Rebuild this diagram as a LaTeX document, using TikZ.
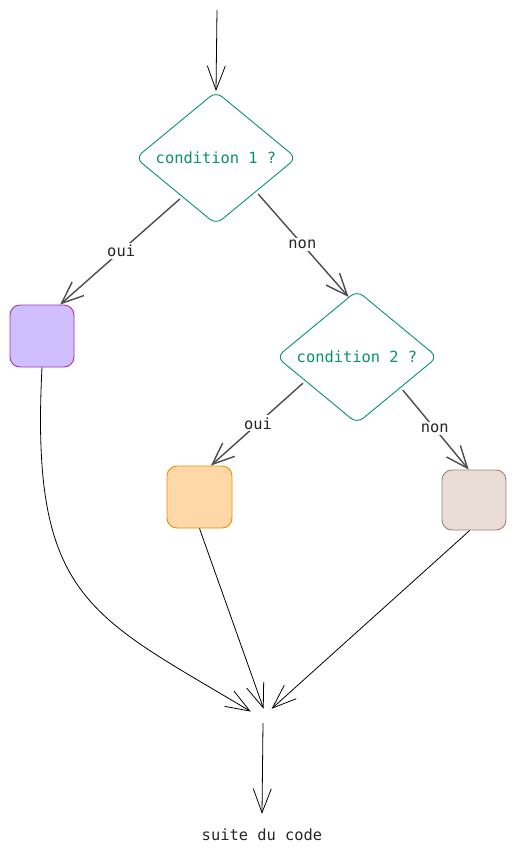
\documentclass[tikz,border=0pt]{standalone}
\usepackage{fontspec}
\setmonofont{DejaVu Sans Mono}
\usepackage{xcolor}
\usepackage{tikz}
\usetikzlibrary{positioning,shapes.geometric,arrows.meta}
\definecolor{condgreen}{HTML}{099268}
\definecolor{violetfill}{HTML}{D0BFFF}
\definecolor{violetline}{HTML}{9C36B5}
\definecolor{orangefill}{HTML}{FFD8A8}
\definecolor{orangeline}{HTML}{F08C00}
\definecolor{brownfill}{HTML}{EADDD7}
\definecolor{brownline}{HTML}{A18072}
\tikzstyle{question}=[diamond, draw=condgreen, text=condgreen, rounded corners=8pt,
        aspect=1.21, inner sep=0pt, minimum width=161pt, minimum height=133pt,
        font=\ttfamily\fontsize{15.4}{18}\selectfont, line width=0.9pt]
\tikzstyle{task}=[rectangle, rounded corners=10pt, minimum width=64pt,
        minimum height=62pt, line width=0.9pt]
\tikzstyle{answer}=[fill=white, text=black!85, inner sep=2pt,
        font=\ttfamily\fontsize{15.4}{18}\selectfont]
\tikzstyle{branch}=[draw=black!70, line width=1.4pt,
        -{Straight Barb[length=22pt,width=18pt]}]
\tikzstyle{flow}=[draw=black, line width=0.8pt,
        -{Straight Barb[length=24pt,width=18pt]}]

\begin{document}
\begin{tikzpicture}[x=1pt, y=-1pt]
        \useasboundingbox (0,0) rectangle (516,854);
        \coordinate (start) at (217,10);
        \node (cond1) [question] at (216,158) {condition 1 ?};
        \node (cond2) [question] at (357,357) {condition 2 ?};
        \node (violet) [task, draw=violetline, fill=violetfill] at (42,336) {};
        \node (orange) [task, draw=orangeline, fill=orangefill, minimum width=65pt] at (199.5,497) {};
        \node (brown) [task, draw=brownline, fill=brownfill, minimum height=60pt] at (474,500) {};
        \node (merge) [rectangle, minimum width=24pt, minimum height=14pt, inner sep=0pt] at (263,716) {};
        \node (next) [answer, fill=none, inner ysep=15pt] at (262,835) {suite du code};

        \draw [flow] (start) -- (cond1.north);
        \draw [branch, shorten <=3pt] (cond1.229) -- node [answer] {oui} (violet.60);
        \draw [branch, shorten <=3pt] (cond1.320) -- node [answer] {non} (cond2.98);
        \draw [branch, shorten <=3pt] (cond2.205) -- node [answer] {oui} (orange.70);
        \draw [branch, shorten <=3pt] (cond2.325) -- node [answer] {non} (brown.100);

        \draw [flow] (violet.south) .. controls (30,600) and (90,615) .. (merge.160);
        \draw [flow] (orange.south) -- (merge.85);
        \draw [flow] (brown.262) -- (merge.40);
        \draw [flow] (merge.south) -- (next.north);
\end{tikzpicture}
\end{document}
